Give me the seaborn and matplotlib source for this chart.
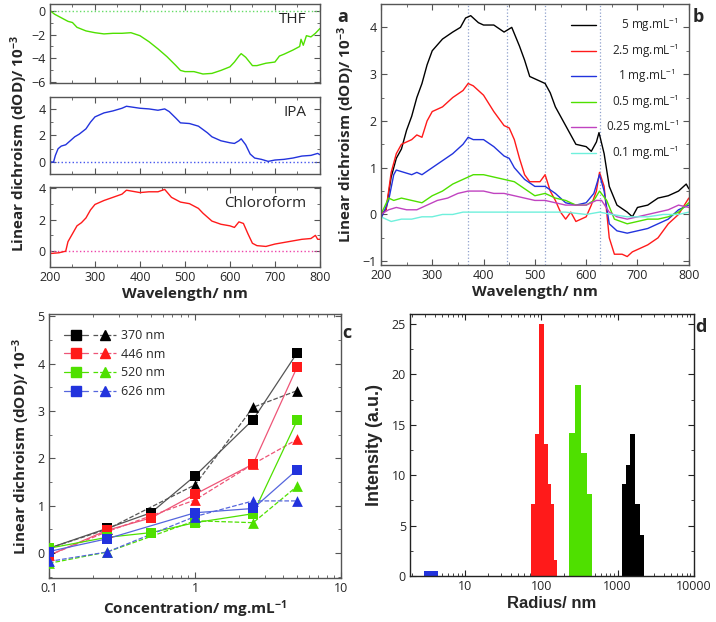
import numpy as np
import pandas as pd
import matplotlib
matplotlib.use("Agg")
import matplotlib.pyplot as plt
import seaborn as sns
from matplotlib.lines import Line2D
from matplotlib.legend_handler import HandlerTuple
from matplotlib.ticker import MultipleLocator, LogLocator, NullFormatter, FixedLocator, FixedFormatter

# ---------------- data ----------------
# panel a: LD spectra in three solvents
THF_WL = [200, 210, 220, 240, 250, 260, 280, 300, 320, 340, 360, 380, 400, 420, 440, 460, 480,
          490, 500, 520, 540, 560, 580, 600, 610, 620, 625, 635, 650, 660, 680, 700, 710, 720,
          740, 755, 758, 763, 770, 780, 790, 800]
THF_LD = [0, -0.3, -0.5, -0.9, -1.0, -1.4, -1.7, -1.85, -1.95, -1.9, -1.9, -1.85, -2.1, -2.6,
          -3.2, -3.85, -4.6, -5.0, -5.1, -5.1, -5.3, -5.25, -5.0, -4.7, -4.3, -3.8, -3.6, -3.9,
          -4.6, -4.6, -4.4, -4.3, -3.8, -3.65, -3.3, -3.0, -2.4, -2.9, -2.1, -2.2, -1.9, -1.5]

IPA_WL = [200, 208, 212, 218, 225, 235, 245, 255, 265, 280, 290, 300, 320, 340, 360, 370, 380,
          400, 420, 440, 455, 465, 480, 490, 510, 530, 550, 560, 580, 600, 610, 620, 625, 635,
          645, 655, 670, 685, 700, 720, 740, 760, 780, 795, 800]
IPA_LD = [0, 0, 0.5, 1.0, 1.2, 1.3, 1.6, 1.9, 2.1, 2.5, 3.0, 3.4, 3.7, 3.85, 4.05, 4.2, 4.15,
          4.05, 4.0, 3.9, 4.0, 3.8, 3.3, 2.95, 2.9, 2.7, 2.2, 1.9, 1.6, 1.45, 1.4, 1.6, 1.75, 1.3,
          0.6, 0.3, 0.2, 0.05, 0.15, 0.2, 0.3, 0.45, 0.5, 0.65, 0.55]

CHL_WL = [200, 220, 235, 240, 250, 260, 270, 280, 290, 300, 320, 340, 360, 370, 380, 400, 420,
          440, 455, 470, 490, 510, 530, 540, 560, 580, 600, 610, 620, 630, 640, 650, 660, 680,
          700, 720, 740, 760, 780, 790, 795, 800]
CHL_LD = [-0.15, -0.1, 0.0, 0.6, 1.1, 1.6, 1.8, 2.1, 2.6, 2.95, 3.2, 3.4, 3.6, 3.85, 3.8, 3.7,
          3.75, 3.75, 3.9, 3.4, 3.1, 3.0, 2.7, 2.4, 1.9, 1.7, 1.6, 1.5, 1.85, 1.75, 1.1, 0.5,
          0.35, 0.3, 0.45, 0.55, 0.65, 0.75, 0.8, 1.0, 0.75, 0.75]

# panel b: LD spectra at different concentrations
B_LABELS = ["5", "2.5", "1", "0.5", "0.25", "0.1"]
B5_WL = [200, 210, 220, 230, 240, 250, 260, 270, 280, 290, 300, 320, 340, 355, 365, 375, 390,
         400, 420, 440, 455, 470, 480, 490, 500, 520, 530, 540, 560, 580, 600, 610, 620, 625,
         635, 645, 660, 680, 690, 700, 720, 740, 760, 780, 795, 800]
B5_LD = [0.0, 0.1, 0.8, 1.2, 1.4, 1.8, 2.1, 2.5, 2.8, 3.2, 3.5, 3.75, 3.9, 4.0, 4.2, 4.25, 4.1,
         4.05, 4.05, 3.9, 4.0, 3.6, 3.3, 2.95, 2.9, 2.8, 2.6, 2.3, 1.9, 1.5, 1.45, 1.35, 1.55,
         1.75, 1.3, 0.6, 0.2, 0.05, -0.05, 0.15, 0.2, 0.35, 0.4, 0.5, 0.65, 0.55]
B25_WL = [200, 210, 220, 230, 240, 260, 270, 280, 290, 300, 320, 340, 360, 370, 380, 400, 420,
          440, 450, 460, 470, 480, 490, 500, 510, 520, 530, 540, 550, 560, 570, 580, 590, 600,
          610, 620, 626, 635, 645, 655, 670, 680, 690, 700, 720, 740, 760, 780, 800]
B25_LD = [0.0, 0.1, 0.9, 1.3, 1.5, 1.6, 1.7, 1.65, 2.0, 2.2, 2.3, 2.5, 2.65, 2.8, 2.75, 2.55,
          2.2, 1.9, 1.85, 1.6, 1.2, 0.85, 0.7, 0.7, 0.7, 0.85, 0.5, 0.3, 0.05, -0.1, 0.05, -0.15,
          -0.1, -0.05, 0.2, 0.5, 0.9, 0.6, -0.5, -0.85, -0.85, -0.9, -0.8, -0.75, -0.65, -0.5,
          -0.2, 0.0, 0.35]
B1_WL = [200, 215, 225, 230, 245, 260, 270, 280, 300, 320, 340, 360, 370, 380, 400, 420, 440,
         450, 460, 480, 500, 520, 540, 560, 580, 600, 615, 626, 635, 645, 660, 680, 700, 720,
         740, 760, 780, 800]
B1_LD = [-0.1, 0.3, 0.85, 0.95, 0.9, 0.85, 0.9, 0.85, 1.0, 1.15, 1.3, 1.5, 1.65, 1.6, 1.6, 1.45,
         1.25, 1.2, 1.0, 0.75, 0.6, 0.6, 0.45, 0.25, 0.2, 0.25, 0.45, 0.85, 0.5, -0.2, -0.35,
         -0.4, -0.35, -0.3, -0.2, -0.1, 0.1, 0.2]
B05_WL = [200, 215, 225, 240, 260, 280, 300, 320, 340, 360, 380, 400, 420, 440, 460, 480, 500,
          520, 540, 560, 580, 600, 615, 626, 640, 655, 680, 700, 720, 740, 760, 780, 800]
B05_LD = [0.0, 0.35, 0.3, 0.35, 0.3, 0.25, 0.4, 0.5, 0.65, 0.75, 0.85, 0.85, 0.8, 0.75, 0.7,
          0.55, 0.4, 0.45, 0.35, 0.3, 0.2, 0.2, 0.3, 0.5, 0.3, -0.1, -0.2, -0.15, -0.1, -0.1,
          -0.05, 0.05, 0.25]
B025_WL = [200, 215, 230, 250, 270, 290, 310, 330, 350, 370, 400, 420, 440, 460, 480, 500, 520,
           540, 560, 580, 600, 620, 630, 645, 660, 680, 700, 720, 740, 760, 780, 800]
B025_LD = [0.0, 0.1, 0.15, 0.1, 0.1, 0.2, 0.3, 0.35, 0.45, 0.5, 0.5, 0.45, 0.45, 0.4, 0.35, 0.3,
           0.3, 0.25, 0.2, 0.2, 0.2, 0.3, 0.3, 0.05, -0.05, -0.1, -0.05, 0.0, 0.05, 0.1, 0.2, 0.15]
B01_WL = [200, 210, 220, 240, 260, 280, 300, 320, 340, 360, 380, 400, 440, 480, 520, 560, 600,
          626, 650, 680, 700, 720, 750, 780, 800]
B01_LD = [-0.05, -0.1, -0.15, -0.1, -0.1, -0.05, -0.05, 0.0, 0.0, 0.05, 0.05, 0.05, 0.05, 0.05,
          0.05, 0.05, 0.0, 0.05, 0.0, -0.05, -0.05, -0.05, 0.0, 0.0, 0.05]
MARK_WL = [370, 446, 520, 626]

# panel c: LD vs concentration
C_BANDS = ["370 nm", "446 nm", "520 nm", "626 nm"]
SQ_CONC = [[0.1, 0.25, 0.5, 1, 2.5, 5], [0.1, 0.25, 0.5, 1, 2.5, 5],
           [0.1, 0.25, 0.5, 1, 2.5, 5], [0.1, 0.25, 1, 2.5, 5]]
SQ_LD = [[0.1, 0.52, 0.85, 1.63, 2.82, 4.23],
         [-0.05, 0.48, 0.74, 1.24, 1.88, 3.93],
         [0.1, 0.33, 0.43, 0.64, 0.83, 2.8],
         [0.03, 0.3, 0.85, 0.94, 1.76]]
TRI_CONC = [0.1, 0.25, 1, 2.5, 5]
TRI_LD = [[0.1, 0.5, 1.44, 3.08, 3.43],
          [-0.05, 0.45, 1.12, 1.88, 2.4],
          [-0.22, 0.02, 0.68, 0.64, 1.41],
          [-0.18, 0.02, 0.77, 1.1, 1.1]]

# panel d: DLS size distributions
D_RED_R = [78, 88, 100, 113, 125, 137, 151]
D_RED_I = [7.1, 14.1, 25.0, 13.1, 9.1, 7.1, 1.6]
D_GRN_R = [252, 302, 359, 415]
D_GRN_I = [14.2, 19.0, 12.2, 8.1]
D_BLK_R = [1245, 1397, 1561, 1795, 2079]
D_BLK_I = [9.1, 11.0, 14.1, 7.1, 4.1]
D_BLU_R = [3.1, 3.6, 4.1]
D_BLU_I = [0.5, 0.5, 0.5]

# ---------------- style ----------------
sns.set_style("ticks")
plt.rcParams['font.family'] = ['Open Sans', 'DejaVu Sans']
plt.rcParams['mathtext.default'] = 'regular'
plt.rcParams['axes.linewidth'] = 1.0

GREEN = '#4fe000'
RED = '#ff1a1a'
BLUE = '#2233dd'
BLACK = '#000000'
MAGENTA = '#c043c0'
CYAN = '#6ff0dc'
FRAME = '#555555'
TICK_FS = 9
LAB_FS = 11


def style_axes(ax, frame=FRAME):
    for s in ax.spines.values():
        s.set_color(frame)
    ax.tick_params(which='both', direction='in', top=True, right=True, color=frame,
                   labelsize=TICK_FS, pad=3)
    ax.tick_params(which='major', length=4)
    ax.tick_params(which='minor', length=2)


fig = plt.figure(figsize=(7.16, 6.22), dpi=100)

# ---------------- panel a ----------------
axa = [fig.add_axes([0.0698, 0.8666, 0.377, 0.127]),
       fig.add_axes([0.0698, 0.7203, 0.377, 0.1238]),
       fig.add_axes([0.0698, 0.5707, 0.377, 0.1286])]
a_data = [(THF_WL, THF_LD, GREEN, 'THF', (-6.05, 0.55), '#66dd66'),
          (IPA_WL, IPA_LD, BLUE, 'IPA', (-0.9, 4.9), '#4455ee'),
          (CHL_WL, CHL_LD, RED, 'Chloroform', (-1.0, 4.05), '#ee44aa')]
for ax, (wl, ld, col, name, yl, zc) in zip(axa, a_data):
    ax.axhline(0, color=zc, ls=':', lw=1.0)
    sns.lineplot(x=wl, y=ld, color=col, lw=1.0, ax=ax)
    ax.set_xlim(200, 800)
    ax.set_ylim(*yl)
    ax.xaxis.set_major_locator(MultipleLocator(100))
    ax.xaxis.set_minor_locator(MultipleLocator(50))
    ax.yaxis.set_major_locator(MultipleLocator(2))
    ax.yaxis.set_minor_locator(MultipleLocator(1))
    style_axes(ax)
    ax.text(0.95, 0.8, name, transform=ax.transAxes, ha='right', va='center', fontsize=11)
    ax.set_xlabel('')
    ax.set_ylabel('')
for ax in axa[:2]:
    ax.tick_params(labelbottom=False)
axa[2].set_xlabel('Wavelength/ nm', fontsize=LAB_FS, fontweight='bold', labelpad=2)
fig.text(0.027, 0.77, r'Linear dichroism (dOD)/ 10$^{-3}$', rotation=90, ha='center',
         va='center', fontsize=LAB_FS, fontweight='bold')
fig.text(0.478, 0.972, 'a', fontsize=13, fontweight='bold', ha='center', va='center')

# ---------------- panel b ----------------
axb = fig.add_axes([0.532, 0.574, 0.430, 0.4196])
for w in MARK_WL:
    axb.axvline(w, color='#8fa0cc', ls=':', lw=0.9)
b_sets = [(B5_WL, B5_LD, BLACK), (B25_WL, B25_LD, RED), (B1_WL, B1_LD, BLUE),
          (B05_WL, B05_LD, GREEN), (B025_WL, B025_LD, MAGENTA), (B01_WL, B01_LD, CYAN)]
pads = ['     ', '  ', '    ', '  ', '', '  ']
for (wl, ld, col), lab, p in zip(b_sets, B_LABELS, pads):
    sns.lineplot(x=wl, y=ld, color=col, lw=1.0, ax=axb,
                 label=p + lab + r' mg.mL$^{-1}$')
axb.set_xlim(200, 800)
axb.set_ylim(-1.08, 4.5)
axb.xaxis.set_major_locator(MultipleLocator(100))
axb.xaxis.set_minor_locator(MultipleLocator(50))
axb.yaxis.set_major_locator(MultipleLocator(1))
axb.yaxis.set_minor_locator(MultipleLocator(0.5))
style_axes(axb)
axb.set_xlabel('Wavelength/ nm', fontsize=LAB_FS, fontweight='bold', labelpad=2)
axb.set_ylabel(r'Linear dichroism (dOD)/ 10$^{-3}$', fontsize=LAB_FS, fontweight='bold',
               labelpad=4)
axb.legend(loc='upper right', frameon=False, fontsize=8.5, handlelength=2.2,
           labelspacing=0.62, borderaxespad=0.4, bbox_to_anchor=(1.0, 0.99))
fig.text(0.975, 0.972, 'b', fontsize=13, fontweight='bold', ha='center', va='center')

# ---------------- panel c ----------------
axc = fig.add_axes([0.0684, 0.0707, 0.408, 0.4244])
cols = [BLACK, RED, GREEN, BLUE]
light = ['#555555', '#ee5577', GREEN, '#5566dd']
handles = []
for i, col in enumerate(cols):
    sns.lineplot(x=TRI_CONC, y=TRI_LD[i], color=light[i], lw=0.9, ls='--', ax=axc)
    sns.lineplot(x=SQ_CONC[i], y=SQ_LD[i], color=light[i], lw=0.9, ax=axc)
for i, col in enumerate(cols):
    axc.scatter(SQ_CONC[i], SQ_LD[i], marker='s', s=42, color=col, zorder=5, lw=0)
    axc.scatter(TRI_CONC, TRI_LD[i], marker='^', s=60, color=col, zorder=5, lw=0)
    handles.append((Line2D([], [], color=light[i], marker='s', mfc=col, mec=col, ms=6.5, lw=0.9),
                    Line2D([], [], color=light[i], marker='^', mfc=col, mec=col, ms=7.5, lw=0.9,
                           ls='--')))
axc.set_xscale('log')
axc.set_xlim(0.1, 10)
axc.set_ylim(-0.53, 5.05)
axc.xaxis.set_major_locator(FixedLocator([0.1, 1, 10]))
axc.xaxis.set_major_formatter(FixedFormatter(['0.1', '1', '10']))
axc.xaxis.set_minor_locator(LogLocator(base=10, subs=np.arange(2, 10)))
axc.xaxis.set_minor_formatter(NullFormatter())
axc.yaxis.set_major_locator(MultipleLocator(1))
axc.yaxis.set_minor_locator(MultipleLocator(0.5))
style_axes(axc)
axc.set_xlabel(r'Concentration/ mg.mL$^{-1}$', fontsize=LAB_FS, fontweight='bold', labelpad=2)
axc.set_ylabel(r'Linear dichroism (dOD)/ 10$^{-3}$', fontsize=LAB_FS, fontweight='bold',
               labelpad=4)
axc.legend(handles, C_BANDS, handler_map={tuple: HandlerTuple(ndivide=None, pad=0.4)},
           handlelength=4.2, loc='upper left', frameon=False, fontsize=9,
           labelspacing=0.45, borderaxespad=0.8, handletextpad=0.4)
fig.text(0.485, 0.465, 'c', fontsize=13, fontweight='bold', ha='center', va='center')

# ---------------- panel d ----------------
axd = fig.add_axes([0.5726, 0.0740, 0.3966, 0.4212])
for rad, inten, col, log_w in [(D_BLU_R, D_BLU_I, BLUE, 0.068), (D_RED_R, D_RED_I, RED, 0.058),
                               (D_GRN_R, D_GRN_I, GREEN, 0.08), (D_BLK_R, D_BLK_I, BLACK, 0.065)]:
    r = np.array(rad, dtype=float)
    left = r * 10 ** (-log_w / 2)
    width = r * 10 ** (log_w / 2) - left
    axd.bar(left, inten, width=width, align='edge', color=col, lw=0)
axd.set_xscale('log')
axd.set_xlim(1.9, 10000)
axd.set_ylim(0, 26)
axd.xaxis.set_major_locator(FixedLocator([10, 100, 1000, 10000]))
axd.xaxis.set_major_formatter(FixedFormatter(['10', '100', '1000', '10000']))
axd.xaxis.set_minor_locator(LogLocator(base=10, subs=np.arange(2, 10)))
axd.xaxis.set_minor_formatter(NullFormatter())
axd.yaxis.set_major_locator(MultipleLocator(5))
axd.yaxis.set_minor_locator(MultipleLocator(2.5))
style_axes(axd, frame='#222222')
axd.set_xlabel('Radius/ nm', fontsize=12, fontweight='bold', family='Liberation Sans',
               labelpad=2)
axd.set_ylabel('Intensity (a.u.)', fontsize=13, fontweight='bold', family='Liberation Sans',
               labelpad=6)
fig.text(0.979, 0.475, 'd', fontsize=13, fontweight='bold', ha='center', va='center')

fig.savefig('out.png', dpi=100)
